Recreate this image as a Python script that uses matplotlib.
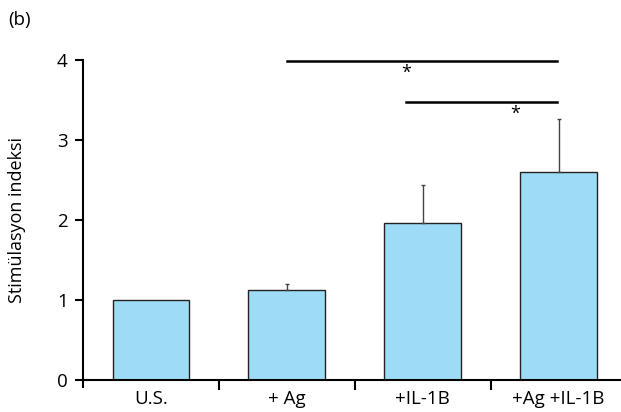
import matplotlib.pyplot as plt
import numpy as np

plt.rcParams['font.family'] = ['Open Sans', 'DejaVu Sans']

categories = ["U.S.", "+ Ag", "+IL-1B", "+Ag +IL-1B"]
values = [1.0, 1.13, 1.96, 2.60]
errors = [0.0, 0.07, 0.48, 0.66]

# significance brackets: (x start, x end, y), star: (x, y)
sig_lines = [(1.0, 2.99, 3.99), (1.88, 2.99, 3.47)]
sig_stars = [(1.88, 3.84), (2.68, 3.33)]

fig = plt.figure(figsize=(6.21, 4.12), dpi=100)
ax = fig.add_axes([83 / 621, 32 / 412, 538 / 621, 320 / 412])

x = np.arange(len(categories))
ax.bar(x, values, width=0.565, color="#9ddbf6", edgecolor="#222222", linewidth=1.0, zorder=2)
ax.errorbar(x[1:], values[1:], yerr=[np.zeros(3), errors[1:]], fmt="none",
            ecolor="#444444", elinewidth=1.0, capsize=1.5, capthick=1.0, zorder=3)

for x0, x1, y in sig_lines:
    ax.plot([x0, x1], [y, y], color="black", linewidth=1.8, clip_on=False)
for sx, sy in sig_stars:
    ax.text(sx, sy, "*", ha="center", va="center", fontsize=13)

ax.set_xlim(-0.5, 3.46)
ax.set_ylim(0, 4)
ax.set_yticks([0, 1, 2, 3, 4])
ax.set_xticks([0.5, 1.5, 2.5])
ax.set_xticklabels([])
ax.set_xticks(x, minor=True)
ax.set_xticklabels(categories, minor=True, fontsize=13.5)
ax.tick_params(axis="x", which="minor", length=0, pad=7)
ax.tick_params(axis="x", which="major", direction="out", length=7, width=1.5)
ax.tick_params(axis="y", direction="out", length=6, width=1.5, labelsize=13.5, pad=5)

ax.spines["top"].set_visible(False)
ax.spines["right"].set_visible(False)
ax.spines["left"].set_linewidth(1.5)
ax.spines["bottom"].set_linewidth(1.5)
ax.spines["left"].set_bounds(-0.09, 4)

ax.set_ylabel("Stimülasyon indeksi", fontsize=13, labelpad=22)
fig.text(8 / 621, 1 - 20 / 412, "(b)", fontsize=13.5, va="center")

fig.savefig("out.png", dpi=100)
